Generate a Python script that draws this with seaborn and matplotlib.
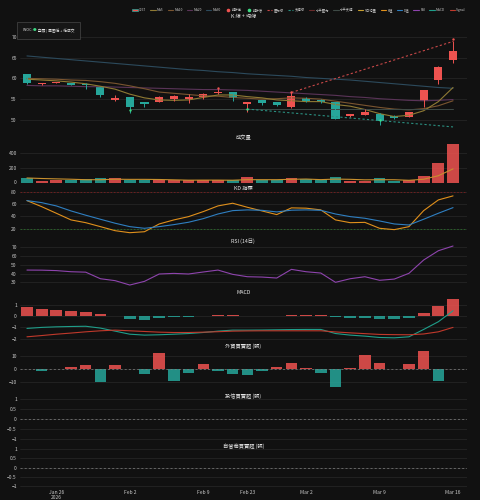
import numpy as np
import pandas as pd
import matplotlib
matplotlib.use("Agg")
import matplotlib.pyplot as plt
import seaborn as sns
from matplotlib.lines import Line2D
from matplotlib.patches import Patch
from matplotlib.ticker import FuncFormatter
from matplotlib.offsetbox import TextArea, HPacker, AnchoredOffsetbox

# ---- data (30 trading days, Jan 22 - Mar 16 2026) ----
opens = [61.0, 58.6, 58.9, 59.0, 58.7, 57.9, 54.7, 55.4, 54.3, 54.4, 55.0, 55.0, 55.6, 56.5, 56.7,
         53.9, 54.7, 54.2, 53.0, 55.3, 54.8, 54.2, 50.9, 51.2, 51.5, 51.0, 50.8, 54.6, 59.7, 64.5]
closes = [59.0, 58.9, 59.0, 58.4, 58.3, 56.1, 55.3, 53.0, 53.8, 55.6, 55.8, 55.6, 56.3, 56.8, 55.3,
          54.2, 54.0, 53.6, 55.8, 54.6, 54.2, 50.3, 51.4, 51.9, 49.8, 50.4, 51.9, 57.1, 62.8, 66.6]
highs = [61.1, 59.0, 59.1, 59.0, 58.8, 57.9, 56.1, 55.6, 54.4, 55.7, 56.0, 56.3, 56.5, 57.5, 56.8,
         54.3, 54.8, 54.3, 56.7, 55.4, 55.0, 54.3, 51.5, 52.6, 51.6, 51.2, 52.0, 57.2, 62.9, 68.9]
lows = [58.7, 58.5, 58.8, 58.3, 57.4, 55.6, 54.6, 51.6, 53.0, 54.3, 54.6, 54.1, 55.0, 56.3, 54.5,
        51.8, 53.6, 53.3, 52.9, 54.2, 54.1, 50.2, 50.6, 51.1, 48.8, 50.3, 50.7, 53.0, 58.7, 63.6]

ma5 = [59.8, 59.6, 59.4, 59.1, 58.7, 58.1, 57.4, 56.2, 55.3, 54.8, 54.7, 54.8, 55.4, 56.0, 56.0,
       55.6, 55.3, 54.8, 54.6, 54.4, 54.4, 53.7, 53.3, 52.5, 51.5, 50.8, 51.1, 52.2, 54.4, 57.8]
ma10 = [60.0, 59.9, 59.8, 59.6, 59.5, 59.2, 58.8, 58.2, 57.5, 56.7, 56.4, 56.1, 55.8, 55.7, 55.4,
        55.2, 55.0, 55.1, 55.3, 55.2, 55.0, 54.5, 54.0, 53.5, 53.0, 52.6, 52.4, 52.7, 53.4, 54.6]
ma20 = [58.3, 58.2, 58.2, 58.1, 58.0, 58.0, 57.9, 57.8, 57.7, 57.6, 57.5, 57.4, 57.3, 57.3, 57.2,
        57.1, 56.9, 56.7, 56.5, 56.3, 56.1, 55.9, 55.6, 55.4, 55.1, 54.9, 54.7, 54.6, 54.7, 54.9]
ma60 = [65.4, 65.1, 64.8, 64.5, 64.2, 63.9, 63.6, 63.3, 63.0, 62.7, 62.4, 62.1, 61.9, 61.6, 61.4,
        61.1, 60.9, 60.7, 60.5, 60.2, 60.0, 59.8, 59.6, 59.3, 59.0, 58.7, 58.4, 58.1, 57.8, 57.6]

pivot_hi_idx = [13, 18, 29]
pivot_hi_val = [57.6, 56.6, 69.4]
pivot_lo_idx = [7, 15, 24]
pivot_lo_val = [52.4, 52.6, 49.9]
resist_idx = [18, 29]
resist_val = [56.6, 68.9]
support_idx = [15, 29]
support_val = [52.6, 48.3]
hsupport_idx = [7, 29]
hsupport_val = [52.6, 52.6]

volume = [55, 22, 41, 28, 46, 55, 55, 32, 28, 36, 32, 32, 36, 28, 28,
          69, 32, 36, 55, 46, 28, 69, 20, 20, 55, 25, 32, 91, 262, 524]
vol_ma5 = [62, 55, 50, 45, 38.4, 38.4, 45, 43.2, 43.2, 41.2, 36.6, 32, 32.8, 32.8, 31.2,
           38.6, 38.6, 38.6, 44, 47.6, 39.4, 46.8, 43.6, 36.6, 38.4, 37.8, 30.4, 44.6, 93, 186.8]

k_val = [65.9, 56, 45.2, 34.3, 29.8, 23.3, 16.7, 13.4, 15, 27.7, 34.3, 39.7, 47.9, 57.2, 61.6,
         55, 49, 43, 54, 53.5, 50.7, 34.3, 29.8, 30.3, 20.6, 18.4, 23.3, 49.5, 67, 73.6]
d_val = [65.9, 62.6, 57.2, 49, 42, 35.4, 28.9, 23.3, 20.6, 23.3, 26.6, 30.5, 36.4, 44, 49.5,
         50.7, 50, 47.4, 50.2, 50.7, 50, 44, 39.7, 37, 32.6, 27.7, 26, 35.4, 45.2, 54.4]
rsi = [44, 43.9, 43.4, 42.1, 41.6, 34.1, 31.9, 26.9, 31.1, 39.5, 40.2, 39.5, 41.8, 44, 39.1,
       36.4, 36, 34.9, 44.8, 42.1, 40.6, 30, 34.1, 36.4, 32.3, 33.7, 40.3, 55.5, 66.1, 71.5]
macd = [-1.09, -1.0, -0.95, -0.92, -0.9, -1.06, -1.33, -1.6, -1.68, -1.65, -1.6, -1.54, -1.45, -1.33, -1.24,
        -1.24, -1.23, -1.21, -1.19, -1.18, -1.18, -1.54, -1.68, -1.77, -1.89, -1.92, -1.83, -1.18, -0.5, 0.47]
signal = [-1.83, -1.72, -1.6, -1.5, -1.39, -1.3, -1.24, -1.3, -1.36, -1.42, -1.45, -1.45, -1.42, -1.38, -1.33,
          -1.31, -1.3, -1.3, -1.3, -1.3, -1.3, -1.4, -1.48, -1.55, -1.62, -1.64, -1.65, -1.58, -1.39, -1.0]
macd_hist = [0.77, 0.65, 0.56, 0.47, 0.38, 0.2, -0.02, -0.27, -0.33, -0.2, -0.1, -0.05, 0.04, 0.12, 0.12,
             0.04, -0.01, 0.01, 0.08, 0.08, 0.08, -0.12, -0.14, -0.14, -0.3, -0.3, -0.14, 0.27, 0.88, 1.5]
foreign = [0, -1, 0, 1.8, 3.1, -10, 3.1, 0, -3.8, 12, -8.8, -2.8, 4.1, -1, -3.8,
           -4.6, -1, 2, 5.1, 1, -2.8, -13.8, 1, 11, 5.1, 0, 4.1, 13.8, -8.8, 0]
trust = [0] * 30
dealer = [0] * 30

tick_pos = [2, 7, 12, 15, 19, 24, 29]
tick_labels = ["Jan 26\n2026", "Feb 2", "Feb 9", "Feb 23", "Mar 2", "Mar 9", "Mar 16"]

RED = "#ef5350"
TEAL = "#26a69a"
BG = "#111111"
TXT = "#c8c8c8"
FONT = ["Noto Sans CJK TC", "DejaVu Sans"]

sns.set_theme(style="dark", rc={"axes.facecolor": BG, "figure.facecolor": BG,
                                "axes.edgecolor": BG, "text.color": TXT,
                                "xtick.color": TXT, "ytick.color": TXT})
plt.rcParams["font.family"] = FONT
plt.rcParams["axes.unicode_minus"] = True

x = np.arange(len(closes))
df = pd.DataFrame({"x": x, "open": opens, "close": closes, "high": highs, "low": lows})
up = df["close"] >= df["open"]
cols = np.where(up, RED, TEAL)

fig = plt.figure(figsize=(4.8, 5.0), dpi=100)
W, H = 480, 500
L, R = 19.6, 467

# plain number labels like 1, 0.5, −0.5
num_fmt = FuncFormatter(lambda v, p: f"{v:g}".replace("-", "\u2212"))


def make_ax(top, bottom):
    return fig.add_axes([L / W, 1 - bottom / H, (R - L) / W, (bottom - top) / H])


def style(ax, ylim, yticks):
    ax.set_xlim(-0.5, 29.95)
    ax.set_ylim(*ylim)
    ax.set_yticks(yticks)
    ax.yaxis.set_major_formatter(num_fmt)
    ax.grid(axis="y", color="#282828", lw=0.5)
    ax.grid(axis="x", visible=False)
    ax.tick_params(axis="both", length=0, labelsize=3.6, pad=2)
    ax.set_xticks([])
    ax.set_xlabel("")
    ax.set_ylabel("")
    for s in ax.spines.values():
        s.set_visible(False)


def title(text, y):
    fig.text((L + R) / 2 / W, 1 - y / H, text, ha="center", va="center", fontsize=3.8, color="#e6e6e6")


# ---- price panel ----
ax = make_ax(19, 129)
style(ax, (47.8, 74.3), [50, 55, 60, 65, 70])
sns.lineplot(x=x, y=ma60, ax=ax, color="#2c4a5c", lw=0.8)
sns.lineplot(x=x, y=ma20, ax=ax, color="#5a3458", lw=0.8)
sns.lineplot(x=x, y=ma10, ax=ax, color="#7a5530", lw=0.8)
sns.lineplot(x=x, y=ma5, ax=ax, color="#8f7a34", lw=0.8)
ax.plot(hsupport_idx, hsupport_val, color="#3e4a46", lw=0.7)
ax.vlines(df["x"], df["low"], df["high"], color=cols, lw=0.7)
body_lo = np.minimum(df["open"], df["close"])
body_h = np.maximum((df["close"] - df["open"]).abs(), 0.12)
ax.bar(df["x"], body_h, bottom=body_lo, width=0.55, color=cols, linewidth=0)
ax.plot(resist_idx, resist_val, color="#c84848", lw=0.8, ls=(0, (2, 2)))
ax.plot(support_idx, support_val, color="#2a8f80", lw=0.8, ls=(0, (2, 2)))
ax.scatter(pivot_hi_idx, pivot_hi_val, s=3, color=RED, zorder=5, linewidths=0)
ax.scatter(pivot_lo_idx, pivot_lo_val, s=3, color="#3ddc84", zorder=5, linewidths=0)
title("K 線 + 均線", 16)

parts = [("WOC: ", "#e0e0e0"), ("●", "#3ddc84"), (" 空頭 | 圓圈低 + 低成交", "#e0e0e0")]
boxes = [TextArea(t, textprops=dict(color=c, fontsize=2.7, family=FONT)) for t, c in parts]
pack = HPacker(children=boxes, align="center", pad=0, sep=0)
anch = AnchoredOffsetbox(loc="upper left", child=pack, pad=0.4, frameon=True, borderpad=0,
                         bbox_to_anchor=(16.5 / W, 1 - 22 / H), bbox_transform=fig.transFigure)
anch.patch.set_facecolor("#161616")
anch.patch.set_edgecolor("#555555")
anch.patch.set_linewidth(0.4)
fig.add_artist(anch)

# ---- volume ----
ax = make_ax(141, 182.5)
style(ax, (0, 570), [0, 200, 400])
ax.bar(x, volume, width=0.8, color=cols, alpha=0.85, linewidth=0)
sns.lineplot(x=x, y=vol_ma5, ax=ax, color="#c8902e", lw=0.8)
title("成交量", 138)

# ---- KD ----
ax = make_ax(191, 236)
style(ax, (8, 81.6), [20, 40, 60, 80])
ax.axhline(80, color="#7a1e1e", lw=0.6, ls=(0, (2, 2)))
ax.axhline(20, color="#2a6a2a", lw=0.6, ls=(0, (2, 2)))
sns.lineplot(x=x, y=k_val, ax=ax, color="#e0901c", lw=0.8)
sns.lineplot(x=x, y=d_val, ax=ax, color="#2f7fc1", lw=0.8)
title("KD 指標", 188)

# ---- RSI ----
ax = make_ax(244, 288)
style(ax, (23.5, 73.8), [30, 40, 50, 60, 70])
sns.lineplot(x=x, y=rsi, ax=ax, color="#8e44ad", lw=0.8)
title("RSI (14日)", 241)

# ---- MACD ----
ax = make_ax(296, 341)
style(ax, (-2.2, 1.77), [-2, -1, 0, 1])
hist_cols = [RED if v >= 0 else TEAL for v in macd_hist]
ax.bar(x, macd_hist, width=0.8, color=hist_cols, alpha=0.85, linewidth=0)
sns.lineplot(x=x, y=macd, ax=ax, color="#1f9e8a", lw=0.8)
sns.lineplot(x=x, y=signal, ax=ax, color="#c0392b", lw=0.8)
title("MACD", 293)

# ---- institutional flows ----
flow_panels = [
    (foreign, "外資買賣超 (張)", 346, (349, 391), (-16.5, 15.4), [-10, 0, 10]),
    (trust, "投信買賣超 (張)", 396, (399, 441), (-1.1, 1.0), [-1, -0.5, 0, 0.5, 1]),
    (dealer, "自營商買賣超 (張)", 446, (449, 487), (-1.05, 1.0), [-1, -0.5, 0, 0.5, 1]),
]
for vals, name, ty, (t, b), ylim, yt in flow_panels:
    ax = make_ax(t, b)
    style(ax, ylim, yt)
    ax.axhline(0, color="#808080", lw=0.5, ls=(0, (3, 3)))
    fc = [RED if v > 0 else TEAL for v in vals]
    ax.bar(x, vals, width=0.78, color=fc, alpha=0.85, linewidth=0)
    title(name, ty)

ax.set_xticks(tick_pos)
ax.set_xticklabels(tick_labels, fontsize=3.6, color=TXT, linespacing=1.1)

# ---- legend ----
handles = [
    Patch(facecolor=RED, edgecolor=TEAL, lw=0.5),
    Line2D([], [], color="#8f7a34", lw=0.8),
    Line2D([], [], color="#7a5530", lw=0.8),
    Line2D([], [], color="#5a3458", lw=0.8),
    Line2D([], [], color="#2c4a5c", lw=0.8),
    Line2D([], [], ls="none", marker="o", ms=1.6, color=RED),
    Line2D([], [], ls="none", marker="o", ms=1.6, color="#3ddc84"),
    Line2D([], [], color="#c84848", lw=0.8, ls=(0, (2, 1.5))),
    Line2D([], [], color="#2a8f80", lw=0.8, ls=(0, (2, 1.5))),
    Line2D([], [], color="#6a2a2a", lw=0.8),
    Line2D([], [], color="#3e4a46", lw=0.8),
    Line2D([], [], color="#c8a030", lw=0.8),
    Line2D([], [], color="#e0901c", lw=0.8),
    Line2D([], [], color="#2f7fc1", lw=0.8),
    Line2D([], [], color="#8e44ad", lw=0.8),
    Line2D([], [], color="#1f9e8a", lw=0.8),
    Line2D([], [], color="#c0392b", lw=0.8),
]
labels = ["7267", "MA5", "MA10", "MA20", "MA60", "轉折高", "轉折低", "壓力線", "支撐線",
          "水平壓力", "水平支撐", "5日均量", "K值", "D值", "RSI", "MACD", "Signal"]
fig.legend(handles, labels, loc="upper right", bbox_to_anchor=(467 / W, 1 - 6.5 / H),
           ncol=len(labels), fontsize=2.4, frameon=False, handlelength=1.6,
           handletextpad=0.4, columnspacing=1.25, borderaxespad=0, labelcolor=TXT)

fig.savefig("out.png", dpi=100, facecolor=BG)
